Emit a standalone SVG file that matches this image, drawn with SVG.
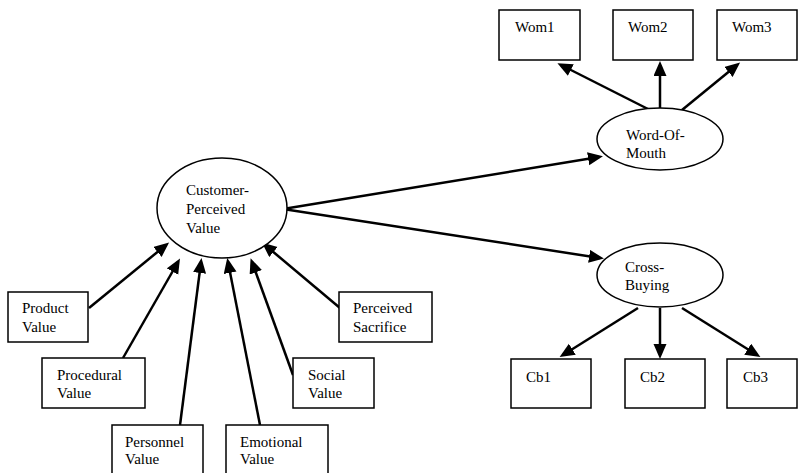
<svg xmlns="http://www.w3.org/2000/svg" width="800" height="473" viewBox="0 0 800 473">
<defs>
<marker id="ah" markerUnits="userSpaceOnUse" markerWidth="16" markerHeight="14" refX="11" refY="6.5" orient="auto">
<path d="M0,0 L15,6.5 L0,13 z" fill="#000"/>
</marker>
<style>
.box{fill:#fff;stroke:#000;stroke-width:1.5}
.ell{fill:#fff;stroke:#000;stroke-width:1.5}
.t{font-family:"Liberation Serif","DejaVu Serif","Times New Roman",serif;font-size:15px;fill:#000}
.c{stroke:#000;stroke-width:2.5;fill:none;marker-end:url(#ah)}
</style>
</defs>
<rect width="800" height="473" fill="#fff"/>
<g id="connectors">
<line class="c" x1="89" y1="308" x2="166" y2="245"/>
<line class="c" x1="123" y1="358" x2="178" y2="262"/>
<line class="c" x1="180" y1="425" x2="201" y2="262"/>
<line class="c" x1="260" y1="425" x2="228" y2="262"/>
<line class="c" x1="293" y1="375" x2="252" y2="262"/>
<line class="c" x1="340" y1="308" x2="265" y2="245"/>
<line class="c" x1="283" y1="209" x2="599" y2="157"/>
<line class="c" x1="283" y1="209" x2="600" y2="258"/>
<line class="c" x1="648" y1="109" x2="561" y2="65"/>
<line class="c" x1="660" y1="108" x2="660" y2="65"/>
<line class="c" x1="682" y1="110" x2="737" y2="65"/>
<line class="c" x1="638" y1="308" x2="563" y2="355"/>
<line class="c" x1="660" y1="308" x2="660" y2="355"/>
<line class="c" x1="682" y1="308" x2="757" y2="355"/>
</g>
<g id="cpv">
<ellipse class="ell" cx="222" cy="208" rx="65" ry="50"/>
<text class="t" x="186" y="195">Customer-</text>
<text class="t" x="186" y="214">Perceived</text>
<text class="t" x="186" y="233">Value</text>
</g>
<g id="wom">
<ellipse class="ell" cx="660" cy="139" rx="63" ry="31"/>
<text class="t" x="626" y="140">Word-Of-</text>
<text class="t" x="626" y="158">Mouth</text>
</g>
<g id="cb">
<ellipse class="ell" cx="660" cy="275" rx="63" ry="32"/>
<text class="t" x="625" y="272">Cross-</text>
<text class="t" x="625" y="290">Buying</text>
</g>
<g id="wom1"><rect class="box" x="499" y="10" width="81" height="50"/><text class="t" x="515" y="32">Wom1</text></g>
<g id="wom2"><rect class="box" x="613" y="10" width="80" height="50"/><text class="t" x="628" y="32">Wom2</text></g>
<g id="wom3"><rect class="box" x="717" y="10" width="80" height="50"/><text class="t" x="732" y="32">Wom3</text></g>
<g id="cb1"><rect class="box" x="511" y="359" width="80" height="49"/><text class="t" x="526" y="382">Cb1</text></g>
<g id="cb2"><rect class="box" x="625" y="359" width="80" height="49"/><text class="t" x="640" y="382">Cb2</text></g>
<g id="cb3"><rect class="box" x="727" y="359" width="70" height="49"/><text class="t" x="743" y="382">Cb3</text></g>
<g id="product"><rect class="box" x="8" y="292" width="80" height="50"/><text class="t" x="22" y="313">Product</text><text class="t" x="22" y="332">Value</text></g>
<g id="procedural"><rect class="box" x="42" y="358" width="103" height="50"/><text class="t" x="57" y="380">Procedural</text><text class="t" x="57" y="398">Value</text></g>
<g id="personnel"><rect class="box" x="112" y="425" width="91" height="60"/><text class="t" x="125" y="447">Personnel</text><text class="t" x="125" y="464">Value</text></g>
<g id="emotional"><rect class="box" x="226" y="425" width="102" height="60"/><text class="t" x="240" y="447">Emotional</text><text class="t" x="240" y="464">Value</text></g>
<g id="social"><rect class="box" x="293" y="358" width="81" height="50"/><text class="t" x="308" y="380">Social</text><text class="t" x="308" y="398">Value</text></g>
<g id="sacrifice"><rect class="box" x="339" y="292" width="93" height="50"/><text class="t" x="353" y="313">Perceived</text><text class="t" x="353" y="332">Sacrifice</text></g>
</svg>
